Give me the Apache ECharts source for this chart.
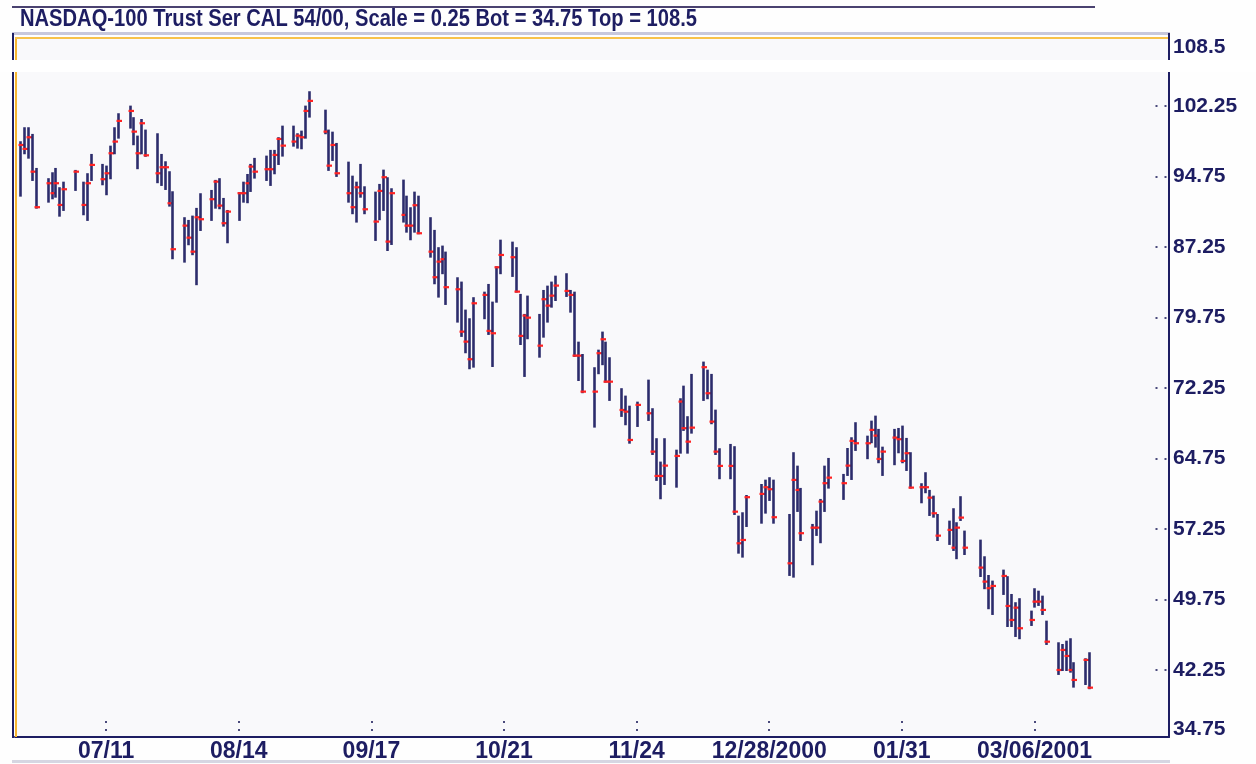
<!DOCTYPE html>
<html>
<head>
<meta charset="utf-8">
<title>NASDAQ-100 Trust bar chart</title>
<script src="https://cdn.jsdelivr.net/npm/echarts@6/dist/echarts.min.js"></script>
<style>
  html, body { margin: 0; padding: 0; background: #fefefe; }
  #chart { width: 1256px; height: 764px; }
</style>
</head>
<body>
<div id="chart"></div>
<script>
// trading days, Jun 2000 - Mar 2001
const dates = [
  '2000-06-19','2000-06-20','2000-06-21','2000-06-22','2000-06-23',
  '2000-06-26','2000-06-27','2000-06-28','2000-06-29','2000-06-30',
  '2000-07-03','2000-07-05','2000-07-06','2000-07-07',
  '2000-07-10','2000-07-11','2000-07-12','2000-07-13','2000-07-14',
  '2000-07-17','2000-07-18','2000-07-19','2000-07-20','2000-07-21',
  '2000-07-24','2000-07-25','2000-07-26','2000-07-27','2000-07-28',
  '2000-07-31','2000-08-01','2000-08-02','2000-08-03','2000-08-04',
  '2000-08-07','2000-08-08','2000-08-09','2000-08-10','2000-08-11',
  '2000-08-14','2000-08-15','2000-08-16','2000-08-17','2000-08-18',
  '2000-08-21','2000-08-22','2000-08-23','2000-08-24','2000-08-25',
  '2000-08-28','2000-08-29','2000-08-30','2000-08-31','2000-09-01',
  '2000-09-05','2000-09-06','2000-09-07','2000-09-08',
  '2000-09-11','2000-09-12','2000-09-13','2000-09-14','2000-09-15',
  '2000-09-18','2000-09-19','2000-09-20','2000-09-21','2000-09-22',
  '2000-09-25','2000-09-26','2000-09-27','2000-09-28','2000-09-29',
  '2000-10-02','2000-10-03','2000-10-04','2000-10-05','2000-10-06',
  '2000-10-09','2000-10-10','2000-10-11','2000-10-12','2000-10-13',
  '2000-10-16','2000-10-17','2000-10-18','2000-10-19','2000-10-20',
  '2000-10-23','2000-10-24','2000-10-25','2000-10-26','2000-10-27',
  '2000-10-30','2000-10-31','2000-11-01','2000-11-02','2000-11-03',
  '2000-11-06','2000-11-07','2000-11-08','2000-11-09','2000-11-10',
  '2000-11-13','2000-11-14','2000-11-15','2000-11-16','2000-11-17',
  '2000-11-20','2000-11-21','2000-11-22','2000-11-24',
  '2000-11-27','2000-11-28','2000-11-29','2000-11-30','2000-12-01',
  '2000-12-04','2000-12-05','2000-12-06','2000-12-07','2000-12-08',
  '2000-12-11','2000-12-12','2000-12-13','2000-12-14','2000-12-15',
  '2000-12-18','2000-12-19','2000-12-20','2000-12-21','2000-12-22',
  '2000-12-26','2000-12-27','2000-12-28','2000-12-29',
  '2001-01-02','2001-01-03','2001-01-04','2001-01-05',
  '2001-01-08','2001-01-09','2001-01-10','2001-01-11','2001-01-12',
  '2001-01-16','2001-01-17','2001-01-18','2001-01-19',
  '2001-01-22','2001-01-23','2001-01-24','2001-01-25','2001-01-26',
  '2001-01-29','2001-01-30','2001-01-31','2001-02-01','2001-02-02',
  '2001-02-05','2001-02-06','2001-02-07','2001-02-08','2001-02-09',
  '2001-02-12','2001-02-13','2001-02-14','2001-02-15','2001-02-16',
  '2001-02-20','2001-02-21','2001-02-22','2001-02-23',
  '2001-02-26','2001-02-27','2001-02-28','2001-03-01','2001-03-02',
  '2001-03-05','2001-03-06','2001-03-07','2001-03-08','2001-03-09',
  '2001-03-12','2001-03-13','2001-03-14','2001-03-15','2001-03-16',
  '2001-03-19','2001-03-20'
]

const highs = [
  98.39, 99.88, 99.88, 99.17, 95.55,
  94.46, 95.09, 95.55, 93.50, 94.09,
  95.34, 94.09, 94.99, 97.04,
  95.98, 95.80, 97.92, 99.88, 101.37,
  102.18, 100.95, 98.99, 100.76, 99.63,
  99.24, 97.04, 96.26, 95.20, 93.07,
  90.31, 90.02, 90.48, 91.30, 92.86,
  93.21, 94.28, 94.46, 92.36, 91.08,
  92.97, 94.09, 94.91, 95.98, 96.62,
  96.86, 97.47, 97.47, 98.82, 100.05,
  100.05, 99.24, 99.52, 102.18, 103.71,
  101.75, 99.63, 99.41, 98.21,
  96.22, 94.73, 94.09, 95.98, 93.60,
  93.03, 93.85, 95.37, 94.56, 93.39,
  94.31, 92.60, 91.37, 93.03, 92.60,
  90.31, 88.96, 87.12, 87.29, 86.65,
  83.92, 83.46, 80.48, 79.56, 81.80,
  82.39, 83.21, 81.33, 85.09, 87.92,
  87.71, 87.12, 82.15, 80.02, 81.97,
  80.02, 82.57, 83.03, 83.46, 84.09,
  84.35, 82.57, 82.39, 77.07, 75.76,
  74.35, 76.22, 78.14, 77.07, 75.41,
  72.12, 71.33, 70.26, 70.69,
  73.03, 69.99, 66.80, 64.31, 66.80,
  65.58, 71.05, 72.39, 69.14, 73.64,
  74.95, 74.09, 73.64, 69.84, 65.73,
  66.19, 65.95, 58.56, 58.92, 60.76,
  61.93, 62.39, 62.65, 62.39,
  58.74, 65.31, 63.88, 61.51,
  57.68, 59.09, 60.34, 63.88, 64.70,
  63.00, 65.76, 66.90, 68.50,
  67.07, 68.67, 69.20, 67.79, 65.90,
  67.79, 67.89, 68.14, 66.83, 65.31,
  62.01, 63.18, 61.30, 60.69, 58.74,
  58.03, 59.35, 57.86, 60.63, 56.97,
  56.01, 54.24, 52.25, 51.65,
  52.82, 52.12, 50.23, 49.35, 49.78,
  48.46, 50.84, 50.58, 50.05, 47.39,
  45.09, 44.91, 45.26, 45.52, 42.97,
  43.39, 44.03
]

const lows = [
  92.71, 97.22, 96.75, 94.38, 91.43,
  92.07, 92.43, 92.60, 90.58, 91.19,
  93.32, 90.73, 90.13, 94.38,
  93.92, 92.86, 94.56, 97.22, 98.88,
  99.95, 98.18, 95.63, 97.22, 96.95,
  94.14, 93.85, 93.42, 91.65, 86.05,
  85.69, 87.54, 86.48, 83.29, 89.06,
  90.13, 91.43, 91.37, 89.52, 87.75,
  90.13, 92.07, 92.01, 93.21, 94.63,
  94.38, 93.85, 95.09, 96.08, 96.97,
  98.03, 97.82, 97.75, 98.88, 101.12,
  99.35, 95.45, 96.51, 94.81,
  92.07, 90.84, 89.95, 92.60, 90.84,
  88.00, 90.20, 91.19, 86.93, 87.57,
  89.95, 88.88, 88.07, 88.88, 88.71,
  86.22, 83.39, 81.97, 84.46, 81.19,
  79.31, 77.79, 76.05, 74.35, 74.52,
  79.67, 78.00, 74.59, 81.43, 84.46,
  84.17, 82.50, 76.93, 73.53, 77.54,
  75.58, 77.71, 79.31, 80.90, 81.61,
  82.04, 80.37, 75.66, 73.10, 71.80,
  68.14, 73.82, 74.78, 72.92, 70.98,
  69.28, 68.39, 66.43, 68.21,
  68.85, 65.23, 62.47, 60.52, 62.04,
  61.75, 65.37, 67.79, 65.37, 67.50,
  70.98, 71.16, 68.50, 65.23, 62.65,
  62.65, 58.85, 54.73, 54.31, 57.57,
  57.92, 58.99, 60.34, 57.92,
  52.36, 52.18, 59.17, 56.08,
  53.50, 56.62, 55.84, 59.17, 61.65,
  60.45, 63.00, 62.57, 65.66,
  64.78, 66.48, 66.01, 64.35, 63.00,
  64.14, 65.41, 64.35, 63.53, 61.65,
  60.09, 61.16, 58.74, 58.56, 56.08,
  55.66, 55.02, 54.14, 58.21, 54.59,
  52.25, 50.95, 48.82, 48.21,
  50.34, 46.93, 46.93, 45.87, 45.63,
  47.04, 48.99, 49.17, 48.21, 45.02,
  41.83, 42.25, 42.25, 42.07, 40.48,
  40.76, 40.31
]

const closes = [
  98.10, 97.68, 98.92, 95.26, 91.48,
  94.03, 92.97, 94.03, 91.72, 93.39,
  95.26, 91.72, 94.03, 95.98,
  94.46, 95.09, 97.22, 98.46, 100.66,
  101.72, 99.52, 97.22, 100.41, 97.00,
  95.09, 95.73, 95.73, 91.90, 87.01,
  89.52, 88.24, 86.75, 90.41, 90.20,
  92.33, 94.20, 91.65, 89.78, 91.01,
  92.97, 92.97, 94.03, 95.80, 95.26,
  95.52, 95.52, 97.04, 98.74, 98.03,
  98.46, 99.09, 98.92, 101.72, 102.79,
  99.52, 95.90, 98.10, 95.09,
  92.97, 91.48, 93.60, 92.97, 91.26,
  89.95, 93.21, 94.67, 87.82, 92.97,
  90.66, 89.52, 89.52, 91.69, 88.71,
  86.75, 84.03, 85.69, 85.95, 82.97,
  82.75, 78.24, 77.18, 75.31, 81.26,
  82.15, 78.32, 78.07, 85.09, 86.40,
  86.16, 82.50, 77.79, 79.95, 79.73,
  76.75, 81.69, 81.01, 82.07, 83.14,
  82.57, 82.15, 75.69, 75.69, 71.86,
  71.86, 75.95, 77.43, 72.92, 72.92,
  69.91, 69.73, 66.72, 70.45,
  69.56, 65.48, 62.89, 62.89, 63.99,
  65.02, 70.80, 67.97, 66.54, 68.03,
  74.46, 71.69, 68.67, 65.48, 63.96,
  63.96, 59.09, 55.73, 56.08, 60.63,
  60.98, 61.69, 61.48, 58.50,
  53.60, 62.47, 61.40, 56.80,
  57.39, 57.39, 60.16, 62.12, 62.71,
  62.12, 63.99, 66.62, 66.37,
  66.37, 67.79, 67.18, 64.70, 65.48,
  66.97, 66.80, 64.49, 65.31, 61.65,
  61.69, 61.69, 60.58, 58.92, 56.54,
  57.15, 55.26, 57.39, 58.46, 55.26,
  53.14, 51.65, 50.95, 51.19,
  52.25, 49.06, 47.57, 48.88, 46.69,
  47.57, 49.52, 49.52, 48.64, 45.26,
  42.25, 44.38, 43.74, 42.25, 41.19,
  43.32, 40.37
]

const xTickDates = ['2000-07-11', '2000-08-14', '2000-09-17', '2000-10-21', '2000-11-24', '2000-12-28', '2001-01-31', '2001-03-06']
const xTickLabels = ['07/11', '08/14', '09/17', '10/21', '11/24', '12/28/2000', '01/31', '03/06/2001']
const yTicks = [108.5, 102.25, 94.75, 87.25, 79.75, 72.25, 64.75, 57.25, 49.75, 42.25, 34.75]

const titleText = 'NASDAQ-100 Trust Ser CAL 54/00, Scale = 0.25 Bot = 34.75 Top = 108.5'

const NAVY = '#1d1d62'
const BAR = '#2c2c6c'
const CLOSE = '#ff2222'
const FONT = '"Liberation Sans", Arial, sans-serif'
const HOUR = 3600 * 1000

function day(s) {
  const [y, m, d] = s.split('-').map(Number)
  return new Date(y, m - 1, d).getTime()
}

const tickTimes = xTickDates.map(day)
const bars = dates.map((d, i) => [day(d), lows[i], highs[i], closes[i]])

function renderBar(params, api) {
  const t = api.value(0)
  const lo = api.coord([t, api.value(1)])
  const hi = api.coord([t, api.value(2)])
  const cl = api.coord([t, api.value(3)])
  const x = Math.round(lo[0]) + 0.5
  return {
    type: 'group',
    children: [
      {
        type: 'line',
        shape: { x1: x, y1: hi[1] - 1, x2: x, y2: lo[1] + 1 },
        style: { stroke: BAR, lineWidth: 2.6 }
      },
      {
        type: 'line',
        shape: { x1: x - 2, y1: cl[1], x2: x + 3.5, y2: cl[1] },
        style: { stroke: CLOSE, lineWidth: 2.2 }
      }
    ]
  }
}

const chart = echarts.init(document.getElementById('chart'))

chart.setOption({
  animation: false,
  backgroundColor: '#fefefe',
  grid: {
    left: 15,
    right: 87,
    top: 38,
    bottom: 27,
    show: true,
    backgroundColor: '#f9f9fb',
    borderWidth: 0,
    outerBoundsMode: 'none'
  },
  xAxis: {
    type: 'value',
    min: day('2000-06-17') + 15 * HOUR,
    max: day('2001-04-09') + 12 * HOUR,
    splitLine: { show: false },
    axisLine: { lineStyle: { color: NAVY, width: 2 } },
    axisTick: {
      inside: true,
      length: 16,
      customValues: tickTimes,
      lineStyle: { color: '#4a4a7c', width: 2, type: [2, 6], dashOffset: 2 }
    },
    axisLabel: {
      customValues: tickTimes,
      formatter: (v) => xTickLabels[tickTimes.indexOf(v)] ?? '',
      margin: 3,
      fontFamily: FONT,
      fontSize: 23,
      fontWeight: 'bold',
      color: NAVY
    }
  },
  yAxis: {
    type: 'value',
    position: 'right',
    min: 35.12,
    max: 109.48,
    splitLine: { show: false },
    axisLine: { show: true, lineStyle: { color: NAVY, width: 2 } },
    axisTick: {
      show: true,
      inside: true,
      length: 14,
      customValues: yTicks.slice(1, -1),
      lineStyle: { color: '#4a4a7c', width: 2, type: [2, 7], dashOffset: 6.5 }
    },
    axisLabel: {
      customValues: yTicks.slice(0, -1),
      formatter: (v) => String(v),
      margin: 4,
      fontFamily: FONT,
      fontSize: 21,
      fontWeight: 'bold',
      color: NAVY
    }
  },
  graphic: [
    // rule above the title
    { type: 'rect', z: 50, shape: { x: 12, y: 6, width: 1083, height: 2 }, style: { fill: '#4a4270' } },
    // title, condensed like the original screen font
    {
      type: 'text', z: 50, x: 20, y: 19, scaleX: 0.84,
      style: { text: titleText, font: 'bold 24px ' + FONT, fill: NAVY, verticalAlign: 'middle' }
    },
    // band under the title
    { type: 'rect', z: 50, shape: { x: 12, y: 32, width: 1158, height: 3 }, style: { fill: '#c8c8dc' } },
    // left frame
    { type: 'rect', z: 50, shape: { x: 12, y: 33, width: 2, height: 705 }, style: { fill: NAVY } },
    { type: 'rect', z: 50, shape: { x: 15, y: 37, width: 2, height: 700 }, style: { fill: '#f6b530' } },
    { type: 'rect', z: 50, shape: { x: 15, y: 37, width: 1153, height: 2 }, style: { fill: '#f8c24a' } },
    // right frame above the plot
    { type: 'rect', z: 50, shape: { x: 1168, y: 33, width: 2, height: 6 }, style: { fill: NAVY } },
    // bottom rule
    { type: 'rect', z: 50, shape: { x: 12, y: 760, width: 1158, height: 3 }, style: { fill: '#d6d6e2' } },
    // white gap across the picture
    { type: 'rect', z: 60, shape: { x: 0, y: 60, width: 1256, height: 12 }, style: { fill: '#ffffff' } },
    // bottom label of the price scale sits inside the frame
    {
      type: 'text', z: 50, x: 1173, y: 729,
      style: {
        text: String(yTicks[yTicks.length - 1]),
        font: 'bold 21px ' + FONT,
        fill: NAVY,
        verticalAlign: 'middle'
      }
    }
  ],
  series: [
    {
      type: 'custom',
      renderItem: renderBar,
      encode: { x: 0, y: [1, 2, 3] },
      data: bars,
      clip: true
    }
  ]
})
</script>
</body>
</html>
